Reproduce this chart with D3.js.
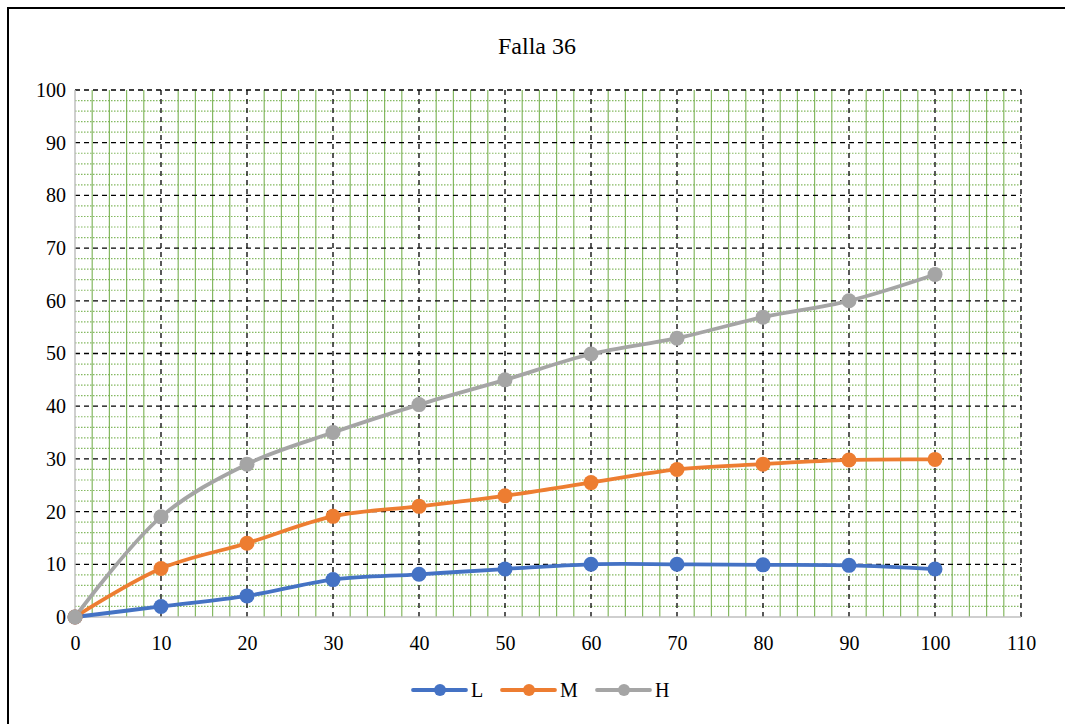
<!DOCTYPE html>
<html><head><meta charset="utf-8">
<script src="https://cdn.jsdelivr.net/npm/d3@7"></script>
<style>body{margin:0;background:#fff}svg{display:block}
text{font-family:"Liberation Serif","Times New Roman","DejaVu Serif",serif;font-weight:normal}</style>
</head><body>
<svg id="c" width="1065" height="724"></svg>
<script>
const xValues = [0,10,20,30,40,50,60,70,80,90,100];
const seriesL = [0,2,4,7.1,8.1,9.1,10,10,9.9,9.8,9.1];
const seriesM = [0,9.2,14,19.1,21,23,25.5,28,29,29.8,29.9];
const seriesH = [0,19,29,35,40.3,45,49.9,52.9,56.9,60,65];
const seriesNames = ["L","M","H"];
const seriesColors = ["#4472C4","#ED7D31","#A5A5A5"];
const xTicks = [0,10,20,30,40,50,60,70,80,90,100,110];
const yTicks = [0,10,20,30,40,50,60,70,80,90,100];
const title = "Falla 36";

const svg = d3.select("#c");
const font = '"Liberation Serif","Times New Roman","DejaVu Serif",serif';
svg.append("rect").attr("x",8).attr("y",8).attr("width",1070).attr("height",730)
  .attr("fill","none").attr("stroke","#000").attr("stroke-width",2);

const x = d3.scaleLinear().domain([0,110]).range([75,1021]);
const y = d3.scaleLinear().domain([0,100]).range([617,90]);

const g = svg.append("g");
d3.range(2,110,2).filter(v=>v%10!==0).forEach(v=>{
  g.append("line").attr("x1",x(v)).attr("x2",x(v)).attr("y1",y(0)).attr("y2",y(100))
   .attr("stroke","#70AD47").attr("stroke-width",1.2).attr("opacity",0.85);
});
d3.range(2,100,2).filter(v=>v%10!==0).forEach(v=>{
  g.append("line").attr("x1",x(0)).attr("x2",x(110)).attr("y1",y(v)).attr("y2",y(v))
   .attr("stroke","#70AD47").attr("stroke-width",1.2).attr("stroke-dasharray","1.5,1.5").attr("opacity",0.85);
});
xTicks.filter(v=>v>0).forEach(v=>{
  g.append("line").attr("x1",x(v)).attr("x2",x(v)).attr("y1",y(0)).attr("y2",y(100))
   .attr("stroke","#000").attr("stroke-width",1.3).attr("stroke-dasharray","5,4");
});
yTicks.filter(v=>v>0).forEach(v=>{
  g.append("line").attr("x1",x(0)).attr("x2",x(110)).attr("y1",y(v)).attr("y2",y(v))
   .attr("stroke","#000").attr("stroke-width",1.3).attr("stroke-dasharray","5,4");
});
g.append("line").attr("x1",x(0)).attr("x2",x(0)).attr("y1",y(0)).attr("y2",y(100)).attr("stroke","#BFBFBF").attr("stroke-width",1.5);
g.append("line").attr("x1",x(0)).attr("x2",x(110)).attr("y1",y(0)).attr("y2",y(0)).attr("stroke","#BFBFBF").attr("stroke-width",1.5);

const xAxis = svg.append("g").attr("transform",`translate(0,${y(0)})`)
  .call(d3.axisBottom(x).tickValues(xTicks).tickSize(0).tickPadding(19));
const yAxis = svg.append("g").attr("transform",`translate(${x(0)},0)`)
  .call(d3.axisLeft(y).tickValues(yTicks).tickSize(0).tickPadding(9));
[xAxis,yAxis].forEach(a=>{
  a.attr("font-family",null).attr("font-size",null);
  a.select(".domain").remove();
  a.selectAll("text").style("font-family",font).style("font-size","20px").attr("fill","#000");
});

svg.append("text").attr("x",537).attr("y",54).attr("text-anchor","middle")
  .style("font-family",font).style("font-size","24px").attr("fill","#000").text(title);

const allSeries = [seriesL, seriesM, seriesH];
const line = d3.line().x((d,i)=>x(xValues[i])).y(d=>y(d)).curve(d3.curveCatmullRom.alpha(0.5));
allSeries.forEach((s,k)=>{
  svg.append("path").datum(s).attr("d",line).attr("fill","none")
    .attr("stroke",seriesColors[k]).attr("stroke-width",3.8).attr("stroke-linecap","round");
});
allSeries.forEach((s,k)=>{
  svg.selectAll(null).data(s).enter().append("circle")
    .attr("cx",(d,i)=>x(xValues[i])).attr("cy",d=>y(d)).attr("r",7.5)
    .attr("fill",seriesColors[k]);
});

const legX = [413, 502, 597];
seriesNames.forEach((n,k)=>{
  const lg = svg.append("g").attr("transform",`translate(${legX[k]},690)`);
  lg.append("line").attr("x1",0).attr("x2",53).attr("y1",0).attr("y2",0)
    .attr("stroke",seriesColors[k]).attr("stroke-width",3.8).attr("stroke-linecap","round");
  lg.append("circle").attr("cx",27).attr("cy",0).attr("r",6).attr("fill",seriesColors[k]);
  lg.append("text").attr("x",58).attr("y",7).style("font-family",font).style("font-size","20px")
    .attr("fill","#000").text(n);
});
</script>
</body></html>
